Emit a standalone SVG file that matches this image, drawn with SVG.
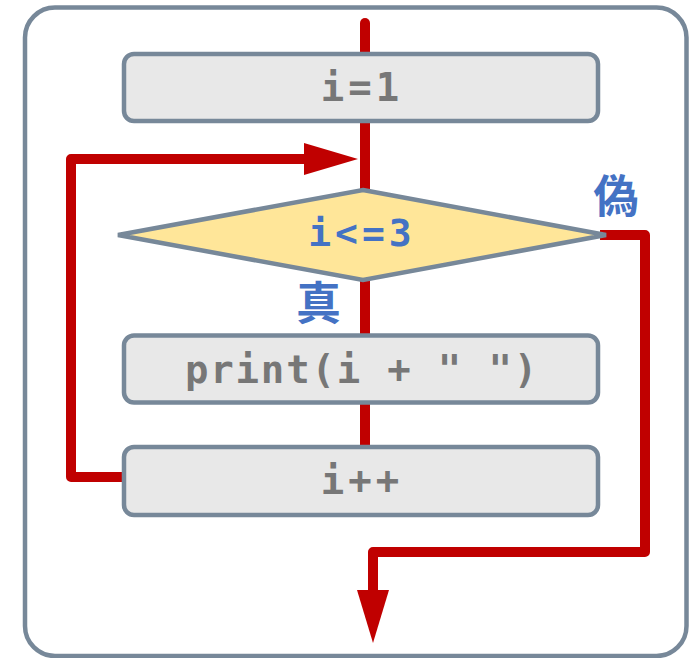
<svg xmlns="http://www.w3.org/2000/svg" width="689" height="658" viewBox="0 0 689 658">
<style>
.frame{fill:#ffffff;stroke:#778899;stroke-width:4.5}
.box{fill:#e8e8e8;stroke:#778899;stroke-width:4.5}
.dia{fill:#ffe699;stroke:#778899;stroke-width:4.5}
.wire{fill:none;stroke:#c00000;stroke-width:10;stroke-linejoin:round}
.head{fill:#c00000}
.code{font-family:"DejaVu Sans Mono","Liberation Mono",monospace;font-weight:bold;font-size:39px;fill:#777777;text-anchor:middle}
.cond{font-family:"DejaVu Sans Mono","Liberation Mono",monospace;font-weight:bold;font-size:38px;fill:#4472c4;text-anchor:middle}
.lbl{font-family:"Noto Sans CJK JP","Noto Sans",sans-serif;font-weight:bold;font-size:45px;fill:#4472c4;text-anchor:middle}
</style>
<rect id="frame" class="frame" x="25" y="7.5" width="661.5" height="648.5" rx="30"/>
<g id="connectors">
<line class="wire" x1="365" y1="23" x2="365" y2="450" style="stroke-linecap:round"/>
<polyline class="wire" points="126,477 71,477 71,159 310,159"/>
<polygon class="head" points="304,143 358,159 304,175"/>
<polyline class="wire" points="600,235 645,235 645,552 373,552 373,596"/>
<polygon class="head" points="357,590 389,590 373,643"/>
</g>
<g id="init">
<rect class="box" x="124" y="54" width="474" height="67" rx="10"/>
<text class="code" x="362" y="101" letter-spacing="4">i=1</text>
</g>
<g id="cond">
<polygon class="dia" points="363,190 606,235 363,280 118,235"/>
<text class="cond" x="362" y="246" letter-spacing="4">i&lt;=3</text>
</g>
<g id="print">
<rect class="box" x="124" y="335.5" width="474" height="67" rx="10"/>
<text class="code" x="362" y="383" letter-spacing="1.8">print(i + " ")</text>
</g>
<g id="incr">
<rect class="box" x="124" y="447" width="474" height="68" rx="10"/>
<text class="code" x="362" y="494" letter-spacing="4">i++</text>
</g>
<g id="labels">
<text class="lbl" x="616" y="213">偽</text>
<text class="lbl" x="318.5" y="320">真</text>
</g>
</svg>
